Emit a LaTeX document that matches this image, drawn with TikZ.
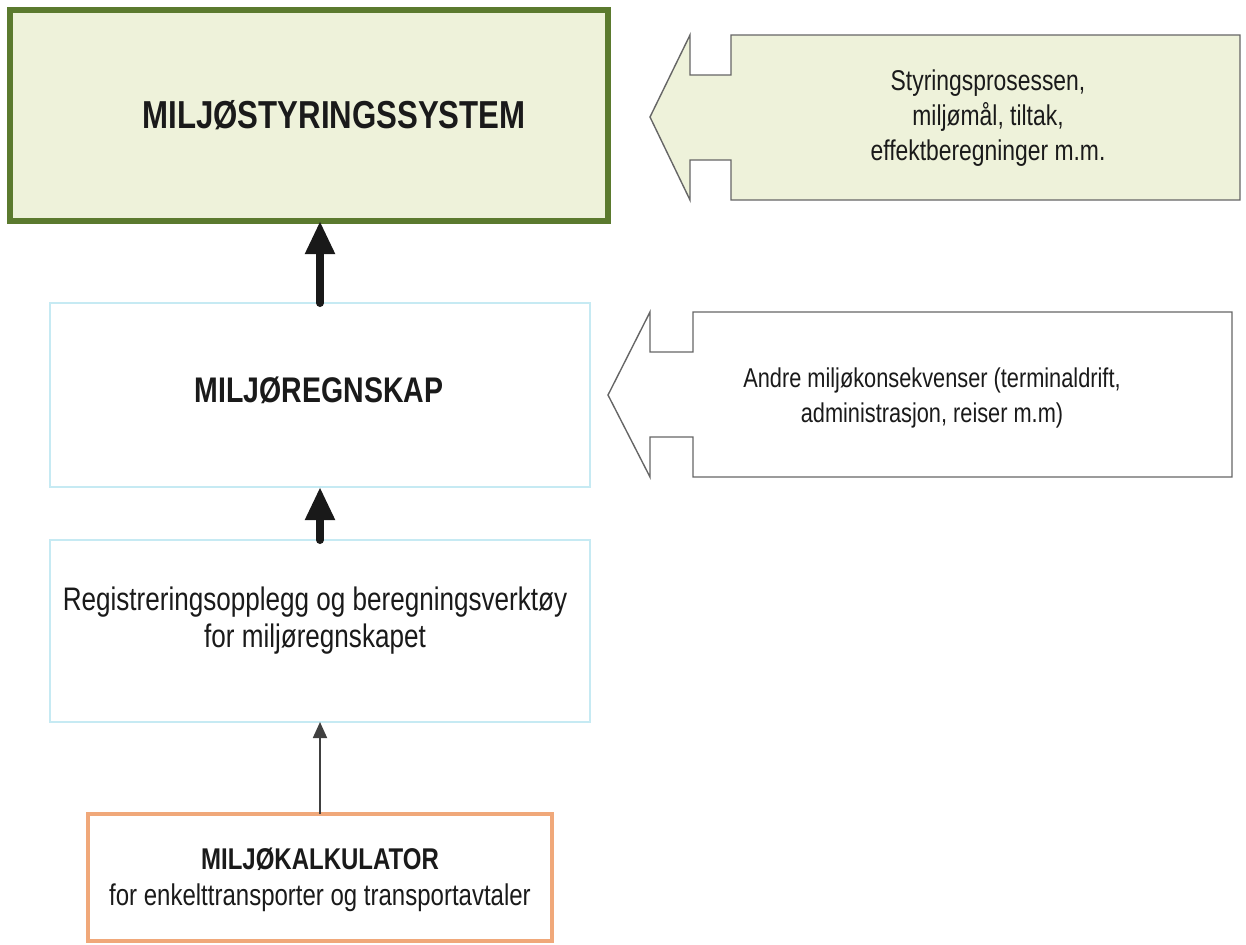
\documentclass[tikz,border=0pt]{standalone}
\usepackage{fontspec}
\setmainfont{Liberation Sans}[FakeStretch=0.8]
\usetikzlibrary{arrows.meta}

\definecolor{sysgreen}{HTML}{5B7A2E}
\definecolor{sysfill}{HTML}{EEF2DA}
\definecolor{acctcyan}{HTML}{C6EAF3}
\definecolor{calcorange}{HTML}{F0A87A}
\definecolor{calloutgray}{HTML}{666666}
\definecolor{ink}{HTML}{1A1A1A}

\tikzset{
  box/.style={rectangle, inner sep=0pt, outer sep=0pt},
  sysbox/.style={box, draw=sysgreen, line width=3pt, fill=sysfill},
  acctbox/.style={box, draw=acctcyan, line width=1.4pt, fill=white},
  calcbox/.style={box, draw=calcorange, line width=2.4pt, fill=white},
  callout/.style={draw=calloutgray, line width=0.7pt, line join=miter},
  label/.style={text=ink, align=center, inner sep=0pt},
  bigarrow/.style={draw=black!90, line width=4pt, line cap=round,
    -{Triangle[width=14pt,length=16.5pt]}},
  thinarrow/.style={draw=black!75, line width=0.9pt,
    -{Triangle[width=7pt,length=8pt]}},
}

\begin{document}
\begin{tikzpicture}[x=0.5pt, y=-0.5pt]
  \useasboundingbox (0,0) rectangle (1246,944);

  % main boxes of the chain
  \node[sysbox, minimum width=299pt, minimum height=105.5pt] (sys) at (309,115.5) {};
  \node[label, font=\bfseries\fontsize{19.5}{22}\selectfont] (systxt) at (334,115) {MILJØSTYRINGSSYSTEM};

  \node[acctbox, minimum width=270pt, minimum height=92pt] (acct) at (320,395) {};
  \node[label, font=\bfseries\fontsize{17.8}{20}\selectfont] (accttxt) at (319,390) {MILJØREGNSKAP};

  \node[acctbox, minimum width=270pt, minimum height=91pt] (reg) at (320,631) {};
  \node[label, font=\fontsize{16.3}{18.5}\selectfont] (regtxt) at (315,621)
    {Registreringsopplegg og beregningsverktøy\\for miljøregnskapet};

  \node[calcbox, minimum width=232pt, minimum height=63.5pt] (calc) at (320,877.5) {};
  \node[label, font=\fontsize{15}{18}\selectfont] (calctxt) at (320,880)
    {\textbf{MILJØKALKULATOR}\\for enkelttransporter og transportavtaler};

  % left-pointing callout arrows feeding the chain
  \draw[callout, fill=sysfill]
    (731,35) -- (1240,35) -- (1240,200) -- (731,200) -- (731,160) -- (690,160)
    -- (690,200) -- (650,117) -- (690,35) -- (690,75) -- (731,75) -- cycle;
  \node[label, font=\fontsize{14.3}{17.5}\selectfont] (goals) at (988,118)
    {Styringsprosessen,\\miljømål, tiltak,\\effektberegninger m.m.};

  \draw[callout, fill=white]
    (693,312) -- (1232,312) -- (1232,477) -- (693,477) -- (693,437) -- (650,437)
    -- (650,477) -- (608,395) -- (650,312) -- (650,352) -- (693,352) -- cycle;
  \node[label, font=\fontsize{13.6}{17.5}\selectfont] (other) at (932,398)
    {Andre miljøkonsekvenser (terminaldrift,\\administrasjon, reiser m.m)};

  % connectors
  \draw[bigarrow] (acct.north) -- (acct.north |- sys.south);
  \draw[bigarrow] (reg.north) -- (acct.south);
  \draw[thinarrow] (calc.north) -- (reg.south);
\end{tikzpicture}
\end{document}
